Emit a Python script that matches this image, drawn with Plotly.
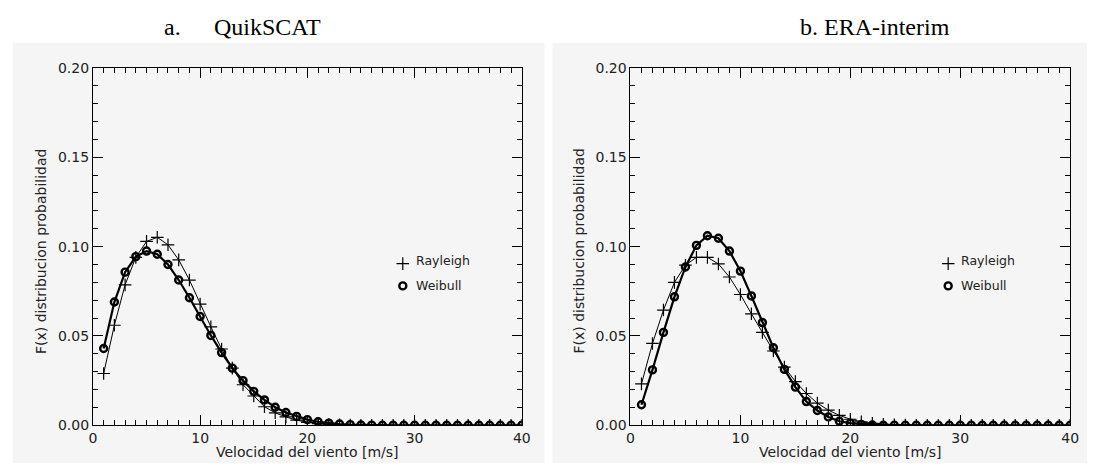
import plotly.graph_objects as go

W, H = 1096, 471

# ---- data ----
x_vals = list(range(1, 41))

quik_rayleigh = [0.029, 0.056, 0.0786, 0.094, 0.1029, 0.1052, 0.101, 0.0926, 0.0813, 0.0678,
                 0.0551, 0.0427, 0.032, 0.0227, 0.0164, 0.0104, 0.007, 0.0047, 0.0029, 0.0017,
                 0.001, 0.0005, 0.0003, 0.0001] + [0.0] * 16
quik_weibull = [0.043, 0.069, 0.0857, 0.0944, 0.0975, 0.0957, 0.090, 0.0813, 0.0714, 0.0609,
                0.0503, 0.0407, 0.032, 0.025, 0.019, 0.0142, 0.0101, 0.0072, 0.005, 0.0032,
                0.002, 0.0012, 0.0007, 0.0004, 0.0002, 0.0001] + [0.0] * 14

era_rayleigh = [0.0232, 0.0458, 0.0645, 0.080, 0.0896, 0.094, 0.094, 0.0903, 0.083, 0.0732,
                0.0624, 0.052, 0.0416, 0.0326, 0.0245, 0.0178, 0.0124, 0.0085, 0.0056, 0.0034,
                0.002, 0.0011, 0.0006, 0.0003, 0.0001] + [0.0] * 15
era_weibull = [0.0115, 0.031, 0.052, 0.0719, 0.0886, 0.1007, 0.1061, 0.1047, 0.0975, 0.0863,
               0.0724, 0.0575, 0.0434, 0.0313, 0.0214, 0.0133, 0.0083, 0.0047, 0.0023, 0.0012,
               0.0005, 0.0002] + [0.0] * 18

panel_titles = ["a.", "QuikSCAT", "b. ERA-interim"]
legend_names = ["Rayleigh", "Weibull"]
x_title = "Velocidad del viento [m/s]"
y_title = "F(x) distribucion probabilidad"

# ---- figure ----
fig = go.Figure()

def px2x(p):
    return p / W

def py2y(p):
    return 1 - p / H

panels = [
    dict(xa="x", ya="y", ray=quik_rayleigh, wei=quik_weibull, left=90, right=524),
    dict(xa="x2", ya="y2", ray=era_rayleigh, wei=era_weibull, left=634, right=1079),
]
top_px, bot_px = 62, 432

FONT = "DejaVu Sans"
TXT = "#222222"
CROSS = dict(symbol="cross-thin", size=9, color="black", line=dict(color="black", width=1.2))
CIRC = dict(symbol="circle-open", size=7, color="black", line=dict(color="black", width=2.4))

for p in panels:
    fig.add_trace(go.Scatter(x=x_vals, y=p["ray"], xaxis=p["xa"], yaxis=p["ya"], mode="lines+markers",
                             line=dict(color="black", width=1), marker=CROSS,
                             showlegend=False, hoverinfo="skip"))
    fig.add_trace(go.Scatter(x=x_vals, y=p["wei"], xaxis=p["xa"], yaxis=p["ya"], mode="lines+markers",
                             line=dict(color="black", width=2.2), marker=CIRC,
                             showlegend=False, hoverinfo="skip"))
    # legend markers
    fig.add_trace(go.Scatter(x=[28.9], y=[0.0905], xaxis=p["xa"], yaxis=p["ya"], mode="markers",
                             marker=CROSS, showlegend=False, hoverinfo="skip"))
    fig.add_trace(go.Scatter(x=[28.9], y=[0.078], xaxis=p["xa"], yaxis=p["ya"], mode="markers",
                             marker=CIRC, showlegend=False, hoverinfo="skip"))
    fig.add_annotation(x=29.9, y=0.0925, xref=p["xa"], yref=p["ya"], text=legend_names[0],
                       showarrow=False, xanchor="left", yanchor="middle",
                       font=dict(family=FONT, size=12.5, color=TXT))
    fig.add_annotation(x=29.9, y=0.078, xref=p["xa"], yref=p["ya"], text=legend_names[1],
                       showarrow=False, xanchor="left", yanchor="middle",
                       font=dict(family=FONT, size=12.5, color=TXT))
    # axis titles
    fig.add_annotation(x=px2x((p["left"] + p["right"]) / 2), y=py2y(460), xref="paper", yref="paper",
                       text=x_title, showarrow=False, xanchor="center", yanchor="middle",
                       font=dict(family=FONT, size=14, color=TXT))
    fig.add_annotation(x=px2x(p["left"] - 52), y=py2y(252), xref="paper", yref="paper",
                       text=y_title, showarrow=False, textangle=-90, xanchor="center", yanchor="middle",
                       font=dict(family=FONT, size=14, color=TXT))

# panel backgrounds
for x0, x1 in [(9, 547), (555, 1096)]:
    fig.add_shape(type="rect", xref="paper", yref="paper", x0=px2x(x0), x1=px2x(x1),
                  y0=py2y(471), y1=py2y(36), fillcolor="#f5f5f5", line=dict(width=0), layer="below")

# titles
fig.add_annotation(x=px2x(171), y=py2y(20), xref="paper", yref="paper", text=panel_titles[0],
                   showarrow=False, xanchor="center", yanchor="middle",
                   font=dict(family="Liberation Serif", size=24, color="black"))
fig.add_annotation(x=px2x(267), y=py2y(20), xref="paper", yref="paper", text=panel_titles[1],
                   showarrow=False, xanchor="center", yanchor="middle",
                   font=dict(family="Liberation Serif", size=24, color="black"))
fig.add_annotation(x=px2x(881), y=py2y(20), xref="paper", yref="paper", text=panel_titles[2],
                   showarrow=False, xanchor="center", yanchor="middle",
                   font=dict(family="Liberation Serif", size=24, color="black"))

common_x = dict(range=[0, 40], tickvals=[0, 10, 20, 30, 40], ticks="inside", ticklen=10, tickwidth=1,
                tickcolor="black", showline=True, linecolor="black", linewidth=1, mirror="ticks",
                showgrid=False, zeroline=False,
                minor=dict(dtick=1, ticks="inside", ticklen=5, tickcolor="black", showgrid=False),
                tickfont=dict(family=FONT, size=14, color=TXT))
common_y = dict(range=[0, 0.2], tickvals=[0, 0.05, 0.10, 0.15, 0.20], tickformat=".2f",
                ticks="inside", ticklen=10, tickwidth=1,
                tickcolor="black", showline=True, linecolor="black", linewidth=1, mirror="ticks",
                showgrid=False, zeroline=False,
                minor=dict(dtick=0.01, ticks="inside", ticklen=5, tickcolor="black", showgrid=False),
                tickfont=dict(family=FONT, size=14, color=TXT))

y_dom = [py2y(bot_px), py2y(top_px)]
fig.update_layout(
    width=W, height=H, margin=dict(l=0, r=0, t=0, b=0),
    paper_bgcolor="white", plot_bgcolor="#f5f5f5",
    showlegend=False,
    xaxis=dict(domain=[px2x(90), px2x(524)], anchor="y", **common_x),
    yaxis=dict(domain=y_dom, anchor="x", **common_y),
    xaxis2=dict(domain=[px2x(634), px2x(1079)], anchor="y2", **common_x),
    yaxis2=dict(domain=y_dom, anchor="x2", **common_y),
)

fig.write_html("out.html")
